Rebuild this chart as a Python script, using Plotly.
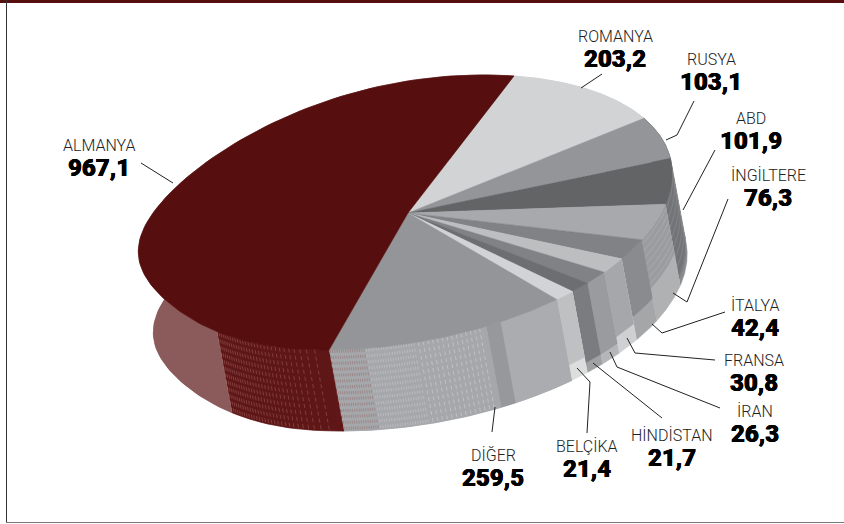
import numpy as np
import plotly.graph_objects as go

# Export destinations, values as printed on the labels
countries = ["ROMANYA", "RUSYA", "ABD", "İNGİLTERE", "İTALYA", "FRANSA", "İRAN",
             "HİNDİSTAN", "BELÇİKA", "DİĞER", "ALMANYA"]
values = [203.2, 103.1, 101.9, 76.3, 42.4, 30.8, 26.3, 21.7, 21.4, 259.5, 967.1]
value_text = ["203,2", "103,1", "101,9", "76,3", "42,4", "30,8", "26,3", "21,7", "21,4", "259,5", "967,1"]
top_colors = ["#d1d3d4", "#939598", "#636466", "#a7a9ac", "#808285", "#bcbec0",
              "#808285", "#6d6e71", "#d1d3d4", "#939598", "#560e0e"]

# Side wall styling per slice: (end fraction of the slice, colour) bands,
# share of the wall height the bands cover, and the colour of the strip below them
wall_bands = [[(1, "#d1d3d4")], [(1, "#76777a")], [(1, "#737477")], [(1, "#9b9c9f")],
              [(1, "#8a8b8e")], [(1, "#a5a7aa")], [(1, "#9a9b9e")], [(1, "#7b7c7f")],
              [(1, "#bfc0c2")],
              [(0.267, "#abacaf"), (0.33, "#96989b"), (1, "#a5a7aa")],
              [(0.156, "#5f1616"), (1, "#8b5a5b")]]
wall_share = [1, 1, 0.92, 0.6, 0.72, 0.8, 0.88, 0.88, 0.81, 1, 1]
wall_foot = ["#d1d3d4", "#76777a", "#8b8c8f", "#b0b1b3", "#a5a6a8", "#cfd0d1",
             "#b5b6b8", "#a0a1a3", "#dcdddd", "#a5a7aa", "#8b5a5b"]

# Projection of the pie disc onto the page, with small corrections that give
# the disc its slight perspective distortion on the near and left sides
CENTER = np.array([408.0, 213.0])
U = np.array([106.0, -137.0])
V = np.array([242.0, 17.0])
DEPTH = np.array([15.0, 81.0])
LEFT_SAG = np.array([-10.0, 13.0])
LOWER_PULL = np.array([5.0, -4.0])
NEAR_SHIFT = np.array([-7.0, -1.0])


def rim(theta):
    theta = np.atleast_1d(theta)
    s, c = np.sin(theta), np.cos(theta)
    sag = np.where(s < 0, s ** 4, 0.0)
    pull = np.where((s < 0) & (c < 0), np.sin(2 * theta) ** 2, 0.0)
    near = np.where(c < 0, -c ** 3, 0.0)
    return (CENTER[None, :] + np.outer(c, U) + np.outer(s, V)
            + np.outer(sag, LEFT_SAG) + np.outer(pull, LOWER_PULL) + np.outer(near, NEAR_SHIFT))


def poly(fig, pts, color):
    fig.add_trace(go.Scatter(x=pts[:, 0], y=pts[:, 1], mode="lines", fill="toself",
                             fillcolor=color, line=dict(color=color, width=0.5),
                             hoverinfo="skip", showlegend=False))


def wall_quad(fig, a, b, s0, s1, color):
    r = rim(np.linspace(a, b, 100))
    poly(fig, np.vstack([r + DEPTH * s0, (r + DEPTH * s1)[::-1]]), color)


def wall_dashes(fig, thetas, color, dash="4px,3px", width=1.0):
    for t in thetas:
        r = rim(t)[0]
        p = np.array([r, r + DEPTH])
        fig.add_trace(go.Scatter(x=p[:, 0], y=p[:, 1], mode="lines",
                                 line=dict(color=color, width=width, dash=dash),
                                 hoverinfo="skip", showlegend=False))


def wall_ripples(fig, a, b, shares, color):
    r = rim(np.linspace(a, b, 60))
    for s in shares:
        p = r + DEPTH * s
        fig.add_trace(go.Scatter(x=p[:, 0], y=p[:, 1], mode="lines",
                                 line=dict(color=color, width=1.2),
                                 hoverinfo="skip", showlegend=False))


fig = go.Figure()
edges = np.concatenate([[0], np.cumsum(values)]) / np.sum(values) * 2 * np.pi

# Side wall first: each slice's bands plus its lighter foot strip
for a, b, bands, share, foot in zip(edges[:-1], edges[1:], wall_bands, wall_share, wall_foot):
    wall_quad(fig, a, b, 0, 1, foot)
    start = 0.0
    for end, color in bands:
        wall_quad(fig, a + (b - a) * start, a + (b - a) * end, 0, share, color)
        start = end

# Printed screen texture on the wall
dig_a, dig_b = edges[9], edges[10]
alm_a = edges[10]
alm_span = (edges[11] - edges[10]) * 0.156
wall_dashes(fig, alm_a + alm_span * np.linspace(0, 1, 30) ** 0.65, "rgba(255,215,215,0.20)")
wall_dashes(fig, dig_a + (dig_b - dig_a) * np.linspace(0.36, 0.62, 14), "rgba(255,255,255,0.28)")
wall_dashes(fig, dig_a + (dig_b - dig_a) * np.linspace(0.64, 0.84, 20), "rgba(255,255,255,0.22)", dash="3px,3px")
wall_dashes(fig, dig_a + (dig_b - dig_a) * np.linspace(0.85, 0.995, 16), "rgba(130,50,50,0.28)", dash="3px,3px")
wall_ripples(fig, edges[3], edges[4], np.linspace(0.05, 0.55, 7), "rgba(255,255,255,0.10)")
wall_ripples(fig, edges[2], edges[3], np.linspace(0.05, 0.9, 8), "rgba(255,255,255,0.10)")

# Top face of every slice
for a, b, c in zip(edges[:-1], edges[1:], top_colors):
    poly(fig, np.vstack([CENTER, rim(np.linspace(a, b, 120)), CENTER]), c)

# Frame around the panel
fig.add_shape(type="rect", x0=0, x1=844, y0=0, y1=3, fillcolor="#560e0e", line_width=0)
fig.add_shape(type="line", x0=6.5, x1=6.5, y0=0, y1=522, line=dict(color="#333333", width=1))
fig.add_shape(type="line", x0=6, x1=844, y0=522.5, y1=522.5, line=dict(color="#777777", width=1))

# Label anchor and leader line for each country
label_xy = [(615, 36), (711, 59), (751, 118), (768, 175), (755, 305), (754, 360), (755, 411),
            (672, 435), (587, 446), (493, 455), (99, 145)]
leaders = [[(602, 74), (581, 88)],
           [(694, 101), (677, 135), (666, 140)],
           [(715, 150), (683, 210)],
           [(728, 199), (687, 302), (673, 293)],
           [(725, 312), (662, 333), (652, 324)],
           [(715, 360), (635, 353), (627, 338)],
           [(720, 408), (617, 367), (610, 352)],
           [(662, 418), (593, 363)],
           [(587, 433), (590, 382), (577, 368)],
           [(492, 432), (495, 407)],
           [(141, 163), (173, 183)]]
for pts in leaders:
    p = np.array(pts)
    fig.add_trace(go.Scatter(x=p[:, 0], y=p[:, 1], mode="lines", line=dict(color="#222222", width=1),
                             hoverinfo="skip", showlegend=False))
for name, txt, (x, y) in zip(countries, value_text, label_xy):
    fig.add_annotation(x=x, y=y, text=name, showarrow=False, xanchor="center", yanchor="middle",
                       font=dict(family="Roboto", size=16, color="#222222", weight=300))
    fig.add_annotation(x=x, y=y + 23, text=txt, showarrow=False, xanchor="center", yanchor="middle",
                       font=dict(family="Roboto", size=24, color="#000000", weight=900,
                                 shadow="0.3px 0 0 #000, -0.3px 0 0 #000"))

fig.update_layout(width=844, height=524, margin=dict(l=0, r=0, t=0, b=0), paper_bgcolor="white",
                  plot_bgcolor="white", showlegend=False,
                  xaxis=dict(range=[0, 844], visible=False, fixedrange=True),
                  yaxis=dict(range=[524, 0], visible=False, fixedrange=True))
fig.write_html("out.html")
